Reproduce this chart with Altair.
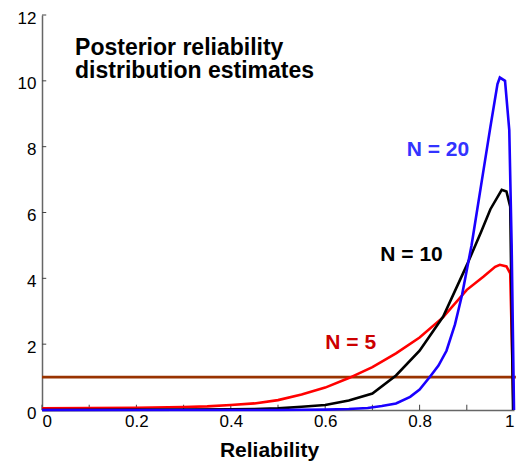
import altair as alt
import pandas as pd

# Series values
red_x = [0, 0.1, 0.2, 0.3, 0.35, 0.4, 0.45, 0.5, 0.55, 0.6, 0.65, 0.7, 0.75, 0.8, 0.85, 0.9, 0.935, 0.96, 0.97, 0.984, 0.992, 0.999]
red_y = [0.05, 0.06, 0.07, 0.09, 0.11, 0.15, 0.2, 0.3, 0.47, 0.68, 0.97, 1.3, 1.72, 2.2, 2.82, 3.65, 4.05, 4.35, 4.41, 4.36, 4.15, 0.0]

black_x = [0, 0.3, 0.4, 0.45, 0.5, 0.55, 0.6, 0.65, 0.7, 0.75, 0.8, 0.85, 0.9, 0.93, 0.95, 0.974, 0.984, 0.992, 0.998]
black_y = [0.0, 0.01, 0.02, 0.03, 0.05, 0.1, 0.15, 0.29, 0.5, 1.05, 1.8, 2.84, 4.4, 5.4, 6.1, 6.69, 6.64, 6.18, 0.0]

blue_x = [0, 0.1, 0.5, 0.6, 0.65, 0.69, 0.72, 0.75, 0.78, 0.8, 0.822, 0.84, 0.857, 0.875, 0.89, 0.91, 0.93, 0.95, 0.965, 0.97, 0.981, 0.99, 0.995, 1.0]
blue_y = [0, 0, 0, 0.01, 0.03, 0.06, 0.12, 0.2, 0.4, 0.62, 1.01, 1.35, 1.8, 2.6, 3.5, 5.0, 6.8, 8.6, 9.9, 10.1, 10.0, 8.5, 5.0, 0.0]

prior_x = [0, 1.004]
prior_y = [1, 1]

x_ticks = [0, 0.1, 0.2, 0.3, 0.4, 0.5, 0.6, 0.7, 0.8, 0.9, 1.0]
y_ticks = [0, 2, 4, 6, 8, 10, 12]

labels = ["N = 5", "N = 10", "N = 20"]
label_x = [0.654, 0.783, 0.839]
label_y = [2.04, 4.71, 7.9]
label_colors = ["#CC0000", "#000000", "#3333FF"]

title_text = "Posterior reliability\ndistribution estimates"

FONT = "Liberation Sans"

xs = alt.X("x:Q", scale=alt.Scale(domain=[0, 1], nice=False),
           axis=alt.Axis(values=x_ticks, format="~g",
                         labelExpr="round(datum.value*10) % 2 == 0 ? datum.label : ''",
                         title="Reliability", grid=False, ticks=False, labelPadding=3,
                         labelFlush=True,
                         labelFontSize=17, labelFont=FONT, labelColor="black",
                         titleFontSize=21, titleFont=FONT, titleFontWeight="bold",
                         titleColor="black", titleX=227, titleY=46, titleBaseline="alphabetic",
                         domainColor="#666666", domainWidth=1.5))
ys = alt.Y("y:Q", scale=alt.Scale(domain=[0, 12], nice=False),
           axis=alt.Axis(values=y_ticks, title=None, grid=False, ticks=False, labelPadding=6,
                         labelOffset=3, labelFlush=False,
                         labelFontSize=17, labelFont=FONT, labelColor="black",
                         domainColor="#666666", domainWidth=1.5))


def line(xv, yv, color):
    df = pd.DataFrame({"x": xv, "y": yv})
    return alt.Chart(df).mark_line(color=color, strokeWidth=2.6, clip=False).encode(x=xs, y=ys)


# inward tick marks drawn from the tick lists
xt_df = pd.DataFrame({"x": x_ticks})
xtick = alt.Chart(xt_df).mark_rule(color="#444444", strokeWidth=1).encode(
    x="x:Q", y=alt.datum(0), y2=alt.datum(0.16))
yt_df = pd.DataFrame({"y": y_ticks})
ytick = alt.Chart(yt_df).mark_rule(color="#444444", strokeWidth=1).encode(
    y="y:Q", x=alt.datum(0), x2=alt.datum(0.009))

prior = line(prior_x, prior_y, "#993300")
red = line(red_x, red_y, "#FF0000")
black = line(black_x, black_y, "#000000")
blue = line(blue_x, blue_y, "#1a00ff")

lab_df = pd.DataFrame({"x": label_x, "y": label_y, "t": labels, "c": label_colors})
lab = alt.Chart(lab_df).mark_text(font=FONT, fontSize=21, fontWeight="bold",
                                   align="center", baseline="middle").encode(
    x="x:Q", y="y:Q", text="t:N", color=alt.Color("c:N", scale=None))

title_df = pd.DataFrame({"x": [0.07], "y": [10.79], "t": [title_text]})
ttl = alt.Chart(title_df).mark_text(font=FONT, fontSize=23, fontWeight="bold",
                                     align="left", baseline="alphabetic",
                                     lineBreak="\n", lineHeight=23, color="black").encode(
    x="x:Q", y="y:Q", text="t:N")

chart = alt.layer(xtick, ytick, prior, red, black, blue, lab, ttl).properties(
    width=472, height=395,
    autosize=alt.AutoSizeParams(type="none"),
    padding={"left": 34, "top": 7, "right": 3, "bottom": 51},
).configure_view(stroke=None)

chart.save("out.html", embed_options={"renderer": "svg", "actions": False})
